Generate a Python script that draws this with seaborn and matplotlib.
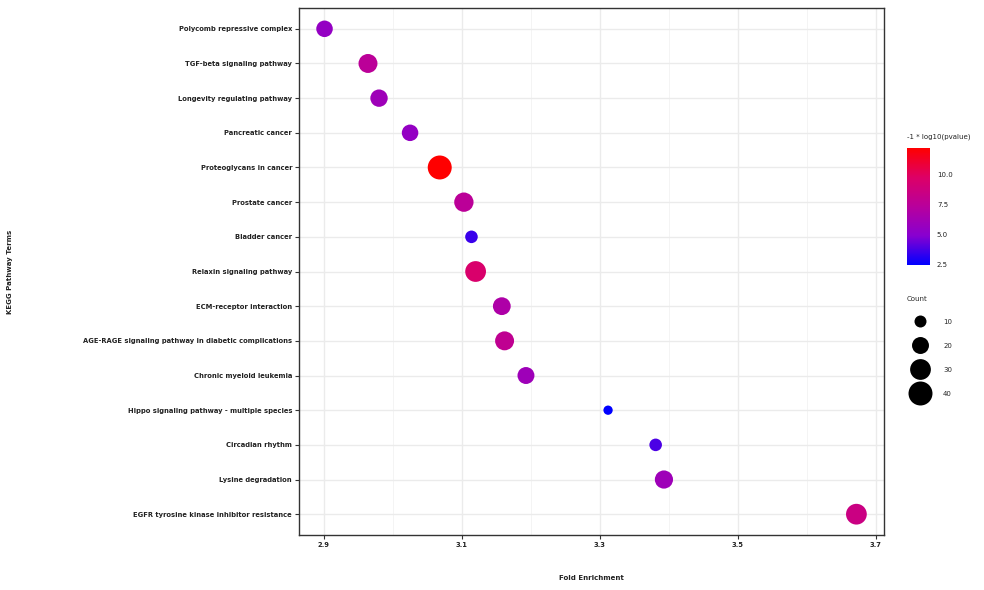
import numpy as np
import pandas as pd
import matplotlib
matplotlib.use('Agg')
import matplotlib.pyplot as plt
import seaborn as sns
from matplotlib.colors import LinearSegmentedColormap, Normalize
from matplotlib.lines import Line2D

# KEGG enrichment results
terms = [
    'Polycomb repressive complex',
    'TGF-beta signaling pathway',
    'Longevity regulating pathway',
    'Pancreatic cancer',
    'Proteoglycans in cancer',
    'Prostate cancer',
    'Bladder cancer',
    'Relaxin signaling pathway',
    'ECM-receptor interaction',
    'AGE-RAGE signaling pathway in diabetic complications',
    'Chronic myeloid leukemia',
    'Hippo signaling pathway - multiple species',
    'Circadian rhythm',
    'Lysine degradation',
    'EGFR tyrosine kinase inhibitor resistance',
]
fold_enrichment = [2.901, 2.964, 2.980, 3.025, 3.068, 3.103, 3.114, 3.120,
                   3.158, 3.162, 3.193, 3.312, 3.381, 3.393, 3.672]
neg_log10_p = [5.5, 7.5, 6.0, 5.5, 12.2, 7.5, 3.5, 9.5,
               6.8, 7.8, 6.0, 2.45, 3.8, 6.0, 8.5]
counts = [19, 25, 21, 19, 43, 26, 11, 30, 22, 25, 20, 6, 11, 23, 30]

size_breaks = [10, 20, 30, 40]
x_ticks = [2.9, 3.1, 3.3, 3.5, 3.7]
cbar_ticks = [2.5, 5.0, 7.5, 10.0]

df = pd.DataFrame({'term': terms, 'fold': fold_enrichment,
                   'logp': neg_log10_p, 'count': counts})

# blue -> red gradient like ggplot's Lab interpolation
cmap = LinearSegmentedColormap.from_list(
    'bluered', ['#0000FF', '#8800D0', '#B8009C', '#DD0066', '#FF0000'])
norm = Normalize(vmin=min(neg_log10_p), vmax=max(neg_log10_p))

sns.set_style('white')
plt.rcParams['font.family'] = ['DejaVu Sans']

fig = plt.figure(figsize=(9.84, 5.9), dpi=100)
ax = fig.add_axes([299 / 984, 1 - 535 / 590, 585 / 984, 527 / 590])

ax.set_xticks([3.0, 3.2, 3.4, 3.6], minor=True)
ax.grid(which='major', color='#EBEBEB', linewidth=1.0, zorder=0)
ax.grid(which='minor', axis='x', color='#F2F2F2', linewidth=0.6, zorder=0)
ax.set_axisbelow(True)

size_scale = 298 / 40  # area in pt^2 per count
sns.scatterplot(
    data=df, x='fold', y='term', hue='logp', palette=cmap, hue_norm=norm,
    size='count', sizes=(0, 40 * size_scale), size_norm=(0, 40),
    edgecolor='none', linewidth=0, legend=False, ax=ax, zorder=3
)

ax.set_xlim(2.864, 3.712)
ax.set_ylim(len(terms) - 0.4, -0.6)
ax.set_xticks(x_ticks)
ax.set_xticklabels([f'{t:.1f}' for t in x_ticks])
ax.set_xlabel('')
ax.set_ylabel('')
ax.tick_params(axis='both', which='major', direction='out', length=3,
               width=0.8, color='#333333', labelsize=4.85, pad=2,
               bottom=True, left=True)
ax.tick_params(axis='x', which='minor', length=0)
for lab in ax.get_xticklabels() + ax.get_yticklabels():
    lab.set_fontweight('bold')
    lab.set_color('#222222')
for sp in ax.spines.values():
    sp.set_color('#333333')
    sp.set_linewidth(1.0)

fig.text(591 / 984, 1 - 578 / 590, 'Fold Enrichment', ha='center', va='center',
         fontsize=5, fontweight='bold', color='#222222')
fig.text(10 / 984, 1 - 272 / 590, 'KEGG Pathway Terms', ha='center', va='center',
         rotation=90, fontsize=5, fontweight='bold', color='#222222')

# colorbar legend
cax = fig.add_axes([907 / 984, 1 - 265 / 590, 23 / 984, 117 / 590])
sm = plt.cm.ScalarMappable(cmap=cmap, norm=norm)
cb = fig.colorbar(sm, cax=cax)
cb.outline.set_visible(False)
cb.set_ticks(cbar_ticks)
cb.set_ticklabels([f'{t:.1f}' for t in cbar_ticks])
cax.yaxis.set_ticks_position('both')
cax.tick_params(direction='in', color='white', length=4, width=0.6,
                labelsize=5, pad=5, labelcolor='#222222')
fig.text(907 / 984, 1 - 137 / 590, '-1 * log10(pvalue)', ha='left',
         va='center', fontsize=5, color='#222222')

# size legend
handles = [Line2D([], [], marker='o', linestyle='none', color='black',
                  markeredgewidth=0, markersize=np.sqrt(b * size_scale))
           for b in size_breaks]
leg = fig.legend(handles, [str(b) for b in size_breaks], title='Count',
                 loc='upper left', bbox_to_anchor=(907 / 984, 1 - 296 / 590),
                 frameon=False, fontsize=5, title_fontsize=5,
                 labelspacing=2.6, handlelength=3.6, handletextpad=1.6,
                 borderaxespad=0, borderpad=0)
leg._legend_box.align = 'left'
leg._legend_box.sep = 12

fig.savefig('out.png', dpi=100)
